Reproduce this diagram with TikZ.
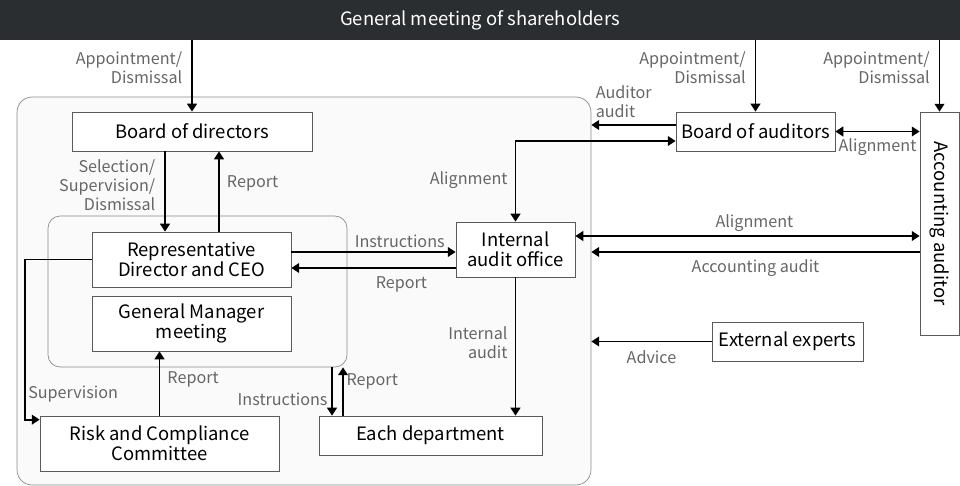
\documentclass[tikz,border=0pt]{standalone}
\usepackage{fontspec}
\setmainfont{Noto Sans CJK JP}
\usetikzlibrary{arrows.meta}
\usetikzlibrary{calc}
\usetikzlibrary{positioning}

\definecolor{barcol}{HTML}{2B2E30}
\definecolor{lblcol}{HTML}{666666}
\definecolor{framecol}{HTML}{8A8A8A}
\definecolor{panelcol}{HTML}{FAFAFA}

\tikzset{
  box/.style={draw=black!65, fill=white, inner sep=0pt, align=center,
    font=\fontsize{10.5}{11.3}\selectfont},
  panel/.style={draw=framecol, fill=panelcol, rounded corners=0.3cm, inner sep=0pt},
  arr/.style={line width=1.1pt, -{Triangle[length=4.5pt,width=5.5pt]}},
  both/.style={{Triangle[length=4.5pt,width=5.5pt]}-{Triangle[length=4.5pt,width=5.5pt]}},
  lbl/.style={text=lblcol, font=\fontsize{9.2}{10.8}\selectfont, inner sep=4pt},
}

\begin{document}
\begin{tikzpicture}[x=0.02cm, y=-0.02cm]
	\useasboundingbox (0,0) rectangle (960,486);
	
	% Shareholders bar
	\node[fill=barcol, minimum width=19.2cm, minimum height=0.8cm, inner sep=0pt,
	      text=white, font=\fontsize{10.5}{11.3}\selectfont] (gms) at (480,20) {General meeting of shareholders};
	
	% Panels
	\node[panel, minimum width=11.48cm, minimum height=7.76cm] (outer) at (304,291) {};
	\node[panel, rounded corners=0.24cm, minimum width=5.98cm, minimum height=3.02cm] (inner) at (197.5,291.5) {};
	
	% Boxes
	\node[box, minimum width=4.8cm, minimum height=0.78cm] (bod) at (192,131.5) {Board of directors};
	\node[box, minimum width=3.98cm, minimum height=1.1cm] (ceo) at (191.5,259.5) {Representative\\Director and CEO};
	\node[box, minimum width=3.98cm, minimum height=1.1cm] (gmm) at (191.5,323.5) {General Manager\\meeting};
	\node[box, minimum width=4.78cm, minimum height=1.1cm] (rcc) at (159.5,443.5) {Risk and Compliance\\Committee};
	\node[box, minimum width=4.46cm, minimum height=0.78cm] (dept) at (430.5,435.5) {Each department};
	\node[box, minimum width=2.38cm, minimum height=1.1cm] (iao) at (515.5,249.5) {Internal\\audit office};
	\node[box, minimum width=3.18cm, minimum height=0.78cm] (boa) at (755.5,131.5) {Board of auditors};
	\node[box, minimum width=0.78cm, minimum height=4.46cm] (acc) at (939.5,223.5) {\rotatebox{-90}{Accounting auditor}};
	\node[box, minimum width=3.02cm, minimum height=0.78cm] (ext) at (787.5,341.5) {External experts};
	
	% Appointments
	\draw[arr] (gms.south -| bod.north) to node[lbl, left, align=right, pos=0.38, inner sep=5pt] {Appointment/\\Dismissal} (bod.north);
	\draw[arr] (gms.south -| boa.north) to node[lbl, left, align=right, pos=0.38, inner sep=5pt] {Appointment/\\Dismissal} (boa.north);
	\draw[arr] (gms.south -| acc.north) to node[lbl, left, align=right, pos=0.38, inner sep=5pt] {Appointment/\\Dismissal} (acc.north);
	
	% Board and CEO
	\draw[arr] ([xshift=-0.54cm]bod.south) to node[lbl, left, align=right, pos=0.42, inner sep=5pt] {Selection/\\Supervision/\\Dismissal} ([xshift=-0.54cm]bod.south |- ceo.north);
	\draw[arr] ([xshift=0.54cm]bod.south |- ceo.north) to node[lbl, right, pos=0.6] {Report} ([xshift=0.54cm]bod.south);
	
	% CEO and internal audit
	\draw[arr] ([yshift=0.15cm]ceo.east) to node[lbl, above, pos=0.66, inner sep=2pt] {Instructions} ([yshift=0.15cm]ceo.east -| iao.west);
	\draw[arr] ([yshift=-0.17cm]ceo.east -| iao.west) to node[lbl, below, pos=0.33, inner sep=4.5pt] {Report} ([yshift=-0.17cm]ceo.east);
	
	% Risk and compliance
	\draw[arr] (ceo.west) -- ++(-67,0) |- node[lbl, right, pos=0.42, inner sep=1.5pt] {Supervision} ($(rcc.north west)+(0,4)$);
	\draw[arr] (rcc.north) to node[lbl, right, pos=0.56] {Report} (rcc.north |- gmm.south);
	
	% Departments
	\draw[arr] ([xshift=-1.97cm]dept.north |- inner.south) to node[lbl, left, pos=0.67, inner sep=2pt] {Instructions} ([xshift=-1.97cm]dept.north);
	\draw[arr] ([xshift=-1.75cm]dept.north) to node[lbl, right, pos=0.71, inner sep=1.5pt] {Report} ([xshift=-1.75cm]dept.north |- inner.south);
	\draw[arr] (iao.south) to node[lbl, left, align=right, pos=0.47] {Internal\\audit} (iao.south |- dept.north);
	
	% Auditors
	\draw[arr] ([yshift=0.13cm]boa.west) to node[lbl, pos=1, above right, align=left, inner sep=2pt, yshift=1.5pt] {Auditor\\audit} ([yshift=0.13cm]boa.west -| outer.east);
	\draw[arr, both] ([yshift=-0.19cm]boa.west) -| node[lbl, left, pos=0.74] {Alignment} (iao.north);
	\draw[arr, both] (boa.east) to node[lbl, below, inner sep=3.5pt] {Alignment} (boa.east -| acc.west);
	\draw[arr, both] ([yshift=0.27cm]iao.east) to node[lbl, above, pos=0.52, inner sep=2pt] {Alignment} ([yshift=0.27cm]iao.east -| acc.west);
	\draw[arr] ([yshift=-0.57cm]acc.west) to node[lbl, below, inner sep=4pt] {Accounting audit} ([yshift=-0.57cm]acc.west -| outer.east);
	
	% Experts
	\draw[arr] (ext.west) to node[lbl, below, inner sep=4.5pt] {Advice} (ext.west -| outer.east);
\end{tikzpicture}
\end{document}
